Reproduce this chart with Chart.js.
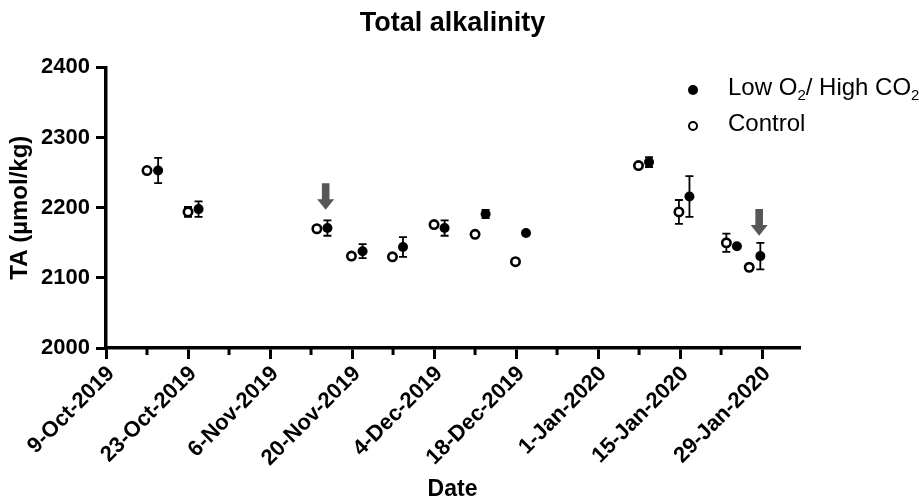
<!DOCTYPE html>
<html lang="en">
<head>
<meta charset="UTF-8">
<title>Total alkalinity</title>
<script src="https://cdn.jsdelivr.net/npm/chart.js"></script>
<style>
  body { margin: 0; background: #fff; font-family: 'Liberation Sans', Arial, sans-serif; color: #000; }
  #wrap { position: relative; width: 919px; height: 499px; }
  .dot { position: absolute; box-sizing: border-box; width: 10px; height: 10px; border-radius: 50%; }
  .dot.filled { background: #000; }
  .dot.open { border: 2.6px solid #000; background: #fff; }
  .leg { position: absolute; left: 728px; font-size: 24px; line-height: 24px; white-space: nowrap; }
  .leg sub { font-size: 15px; vertical-align: -5px; line-height: 0; }
</style>
</head>
<body>
<div id="wrap">
  <canvas id="taChart" width="919" height="499"></canvas>
  <div class="dot filled" style="left:688px; top:85px;"></div>
  <div class="leg" style="top:75px;">Low O<sub>2</sub>/ High CO<sub>2</sub></div>
  <div class="dot open" style="left:688px; top:121px;"></div>
  <div class="leg" style="top:111px;">Control</div>
</div>
<script>
  // days since 9-Oct-2019
  const controlDays = [7.0, 14.0, 36.0, 41.9, 48.9, 56.0, 63.0, 69.9, 90.9, 97.8, 105.9, 109.8];
  const controlTA = [2253, 2194, 2170, 2131, 2130, 2176, 2162, 2123, 2260, 2194, 2150, 2115];
  const controlErr = [0, 7, 0, 0, 0, 0, 0, 0, 0, 17, 13, 4];

  const lowDays = [8.9, 15.8, 37.8, 43.8, 50.7, 57.8, 64.8, 71.7, 92.7, 99.6, 107.7, 111.7];
  const lowTA = [2253, 2198, 2171, 2138, 2144, 2171, 2191, 2164, 2265, 2216, 2145, 2131];
  const lowErr = [18, 11, 11, 10, 14, 11, 6, 0, 7, 29, 0, 19];

  // grey arrows (day, top value, tip value)
  const arrowDays = [37.5, 111.5];
  const arrowTop = [2235, 2198];
  const arrowTip = [2197, 2160];

  const tickDays = [0, 14, 28, 42, 56, 70, 84, 98, 112];
  const tickLabels = ['9-Oct-2019', '23-Oct-2019', '6-Nov-2019', '20-Nov-2019', '4-Dec-2019',
                      '18-Dec-2019', '1-Jan-2020', '15-Jan-2020', '29-Jan-2020'];
  const minorTickDays = [7, 21, 35, 49, 63, 77, 91, 105];
  const yTicks = [2000, 2100, 2200, 2300, 2400];

  const toPoints = (days, vals, errs) => days.map((d, i) => ({ x: d, y: vals[i], err: errs[i] }));

  const errorBars = {
    id: 'errorBars',
    beforeDatasetsDraw(chart) {
      const { ctx, scales: { x, y } } = chart;
      ctx.save();
      ctx.strokeStyle = '#000';
      ctx.lineWidth = 1.8;
      chart.data.datasets.forEach(ds => {
        ds.data.forEach(p => {
          if (!p.err) return;
          const px = x.getPixelForValue(p.x);
          const top = y.getPixelForValue(p.y + p.err);
          const bot = y.getPixelForValue(p.y - p.err);
          ctx.beginPath();
          ctx.moveTo(px, top); ctx.lineTo(px, bot);
          ctx.moveTo(px - 4, top); ctx.lineTo(px + 4, top);
          ctx.moveTo(px - 4, bot); ctx.lineTo(px + 4, bot);
          ctx.stroke();
        });
      });
      ctx.restore();
    }
  };

  const extras = {
    id: 'extras',
    afterDraw(chart) {
      const { ctx, chartArea, scales: { x, y } } = chart;
      ctx.save();
      // minor ticks on the date axis
      ctx.strokeStyle = '#000';
      ctx.lineWidth = 3;
      minorTickDays.forEach(d => {
        const px = x.getPixelForValue(d);
        ctx.beginPath();
        ctx.moveTo(px, chartArea.bottom);
        ctx.lineTo(px, chartArea.bottom + 7);
        ctx.stroke();
      });
      // arrows
      ctx.fillStyle = '#575757';
      arrowDays.forEach((d, i) => {
        const px = x.getPixelForValue(d);
        const top = y.getPixelForValue(arrowTop[i]);
        const tip = y.getPixelForValue(arrowTip[i]);
        const neck = top + (tip - top) * 0.6;
        ctx.beginPath();
        ctx.moveTo(px - 3.8, top);
        ctx.lineTo(px + 3.8, top);
        ctx.lineTo(px + 3.8, neck);
        ctx.lineTo(px + 8.5, neck);
        ctx.lineTo(px, tip);
        ctx.lineTo(px - 8.5, neck);
        ctx.lineTo(px - 3.8, neck);
        ctx.closePath();
        ctx.fill();
      });
      ctx.restore();
    }
  };

  Chart.defaults.font.family = "'Liberation Sans', Arial, sans-serif";
  Chart.defaults.color = '#000';

  new Chart(document.getElementById('taChart'), {
    type: 'scatter',
    data: {
      datasets: [
        {
          label: 'Control',
          data: toPoints(controlDays, controlTA, controlErr),
          pointStyle: 'circle',
          pointRadius: 4.2,
          pointBorderWidth: 2.6,
          pointBackgroundColor: '#fff',
          pointBorderColor: '#000'
        },
        {
          label: 'Low O2/ High CO2',
          data: toPoints(lowDays, lowTA, lowErr),
          pointStyle: 'circle',
          pointRadius: 5,
          pointBorderWidth: 0,
          pointBackgroundColor: '#000',
          pointBorderColor: '#000'
        }
      ]
    },
    options: {
      responsive: false,
      animation: false,
      layout: { padding: 0 },
      plugins: {
        legend: { display: false },
        tooltip: { enabled: false },
        title: {
          display: true,
          fullSize: false,
          text: 'Total alkalinity',
          font: { size: 27, weight: 'bold' },
          padding: { top: 7, bottom: 28 }
        }
      },
      scales: {
        x: {
          type: 'linear',
          min: 0,
          max: 118.3,
          afterBuildTicks: s => { s.ticks = tickDays.map(v => ({ value: v })); },
          afterFit: s => { s.height = 151; },
          ticks: {
            minRotation: 45,
            maxRotation: 45,
            padding: 2,
            labelOffset: 5,
            font: { size: 22, weight: 'bold' },
            callback: v => tickLabels[tickDays.indexOf(v)]
          },
          grid: { drawOnChartArea: false, tickLength: 11, tickWidth: 3, lineWidth: 3, tickColor: '#000' },
          border: { color: '#000', width: 3.5 },
          title: {
            display: true,
            text: 'Date',
            font: { size: 23, weight: 'bold', lineHeight: 1 },
            padding: { top: 0, bottom: -2 }
          }
        },
        y: {
          min: 2000,
          max: 2400,
          afterBuildTicks: s => { s.ticks = yTicks.map(v => ({ value: v })); },
          afterFit: s => { s.width = 106; },
          ticks: {
            padding: 6,
            font: { size: 22, weight: 'bold' },
            callback: v => String(v)
          },
          grid: { drawOnChartArea: false, tickLength: 10, tickWidth: 3, lineWidth: 3, tickColor: '#000' },
          border: { color: '#000', width: 3.5 },
          title: {
            display: true,
            text: 'TA (µmol/kg)',
            font: { size: 24, weight: 'bold' },
            padding: { top: 6, bottom: 0 }
          }
        },
        // empty box on the right that leaves room for the legend
        spacer: {
          type: 'linear',
          position: 'right',
          afterFit: s => { s.width = 120; },
          ticks: { display: false },
          grid: { display: false },
          border: { display: false }
        }
      }
    },
    plugins: [errorBars, extras]
  });
</script>
</body>
</html>
